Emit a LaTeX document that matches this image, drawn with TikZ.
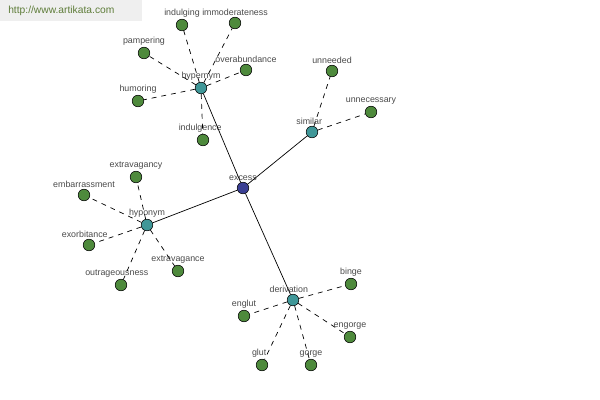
\documentclass[tikz,border=0pt]{standalone}
\usepackage{fontspec}
\setmainfont{Liberation Sans}
\usetikzlibrary{positioning}
\definecolor{wordLeaf}{HTML}{4E8A3C}
\definecolor{wordRel}{HTML}{3F9798}
\definecolor{wordRoot}{HTML}{3A3F93}
\definecolor{wordText}{HTML}{4A4A4A}
\definecolor{markBg}{HTML}{EFEFEF}
\definecolor{markText}{HTML}{5F7D3A}
\tikzset{
  wordDot/.style={
    circle,
    draw=black,
    line width=0.4pt,
    minimum size=2.9mm,
    inner sep=0pt
  },
  leafDot/.style={wordDot, fill=wordLeaf},
  relDot/.style={wordDot, fill=wordRel},
  rootDot/.style={wordDot, fill=wordRoot},
  wordLabel/.style={font=\fontsize{6.3}{7}\selectfont, text=wordText, inner sep=0.8pt},
  relEdge/.style={black, line width=0.5pt},
  leafEdge/.style={black, line width=0.5pt, dash pattern=on 3.5pt off 3.5pt},
  markLabel/.style={font=\fontsize{7.3}{8}\selectfont, text=markText, inner sep=0pt}
}

\begin{document}
\begin{tikzpicture}[x=0.025cm,y=-0.025cm]
  \useasboundingbox (0,0) rectangle (600,400);
  \fill[markBg] (0,0) rectangle (142,21);
  \node[markLabel, anchor=west] (mark) at (8,11) {http://www.artikata.com};

  % centre and relations
  \node[rootDot, label={[wordLabel]above:excess}] (excess) at (243,188) {};
  \node[relDot, label={[wordLabel]above:hypernym}] (hypernym) at (201,88) {};
  \node[relDot, label={[wordLabel, xshift=-2]above:similar}] (similar) at (312,132) {};
  \node[relDot, label={[wordLabel]above:hyponym}] (hyponym) at (147,225) {};
  \node[relDot, label={[wordLabel, xshift=-3]above:derivation}] (derivation) at (293,300) {};

  % hypernym words
  \node[leafDot, label={[wordLabel]above:indulging}] (indulging) at (182,25) {};
  \node[leafDot, label={[wordLabel]above:immoderateness}] (immoderateness) at (235,23) {};
  \node[leafDot, label={[wordLabel]above:pampering}] (pampering) at (144,53) {};
  \node[leafDot, label={[wordLabel]above:overabundance}] (overabundance) at (246,70) {};
  \node[leafDot, label={[wordLabel]above:humoring}] (humoring) at (138,101) {};
  \node[leafDot, label={[wordLabel, xshift=-2]above:indulgence}] (indulgence) at (203,140) {};

  % similar words
  \node[leafDot, label={[wordLabel]above:unneeded}] (unneeded) at (332,71) {};
  \node[leafDot, label={[wordLabel]above:unnecessary}] (unnecessary) at (371,112) {};

  % hyponym words
  \node[leafDot, label={[wordLabel]above:extravagancy}] (extravagancy) at (136,177) {};
  \node[leafDot, label={[wordLabel]above:embarrassment}] (embarrassment) at (84,195) {};
  \node[leafDot, label={[wordLabel, xshift=-3]above:exorbitance}] (exorbitance) at (89,245) {};
  \node[leafDot, label={[wordLabel, xshift=-3]above:outrageousness}] (outrageousness) at (121,285) {};
  \node[leafDot, label={[wordLabel]above:extravagance}] (extravagance) at (178,271) {};

  % derivation words
  \node[leafDot, label={[wordLabel]above:binge}] (binge) at (351,284) {};
  \node[leafDot, label={[wordLabel]above:englut}] (englut) at (244,316) {};
  \node[leafDot, label={[wordLabel]above:engorge}] (engorge) at (350,337) {};
  \node[leafDot, label={[wordLabel, xshift=-2]above:glut}] (glut) at (262,365) {};
  \node[leafDot, label={[wordLabel]above:gorge}] (gorge) at (311,365) {};

  \draw[relEdge] (excess) -- (hypernym);
  \draw[relEdge] (excess) -- (similar);
  \draw[relEdge] (excess) -- (hyponym);
  \draw[relEdge] (excess) -- (derivation);

  \draw[leafEdge] (hypernym) -- (indulging);
  \draw[leafEdge] (hypernym) -- (immoderateness);
  \draw[leafEdge] (hypernym) -- (pampering);
  \draw[leafEdge] (hypernym) -- (overabundance);
  \draw[leafEdge] (hypernym) -- (humoring);
  \draw[leafEdge] (hypernym) -- (indulgence);
  \draw[leafEdge] (similar) -- (unneeded);
  \draw[leafEdge] (similar) -- (unnecessary);
  \draw[leafEdge] (hyponym) -- (extravagancy);
  \draw[leafEdge] (hyponym) -- (embarrassment);
  \draw[leafEdge] (hyponym) -- (exorbitance);
  \draw[leafEdge] (hyponym) -- (outrageousness);
  \draw[leafEdge] (hyponym) -- (extravagance);
  \draw[leafEdge] (derivation) -- (binge);
  \draw[leafEdge] (derivation) -- (englut);
  \draw[leafEdge] (derivation) -- (engorge);
  \draw[leafEdge] (derivation) -- (glut);
  \draw[leafEdge] (derivation) -- (gorge);
\end{tikzpicture}
\end{document}
